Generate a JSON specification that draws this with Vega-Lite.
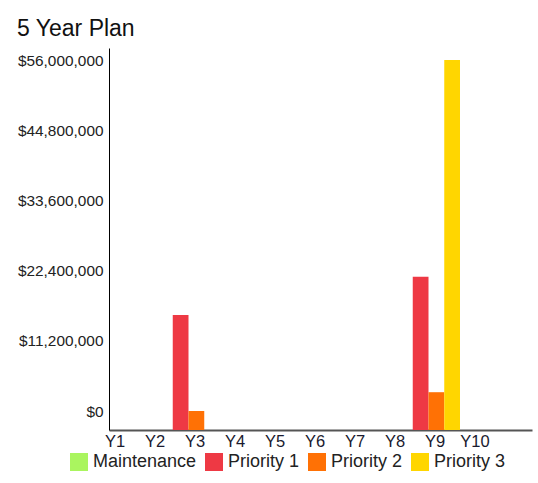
{
  "$schema": "https://vega.github.io/schema/vega-lite/v6.json",
  "width": 423,
  "height": 382,
  "autosize": {"type": "none"},
  "padding": {"left": 109, "top": 48, "right": 6, "bottom": 53},
  "background": "white",
  "config": {"view": {"stroke": null}, "font": "Liberation Sans"},
  "title": {"text": "5 Year Plan", "anchor": "start", "frame": "group", "dx": -92, "dy": 27, "fontSize": 23, "fontWeight": "normal", "color": "#111111", "offset": 16, "baseline": "alphabetic"},
  "data": {"values": [
    {"year": "Y1", "category": "Maintenance", "cost": null},
    {"year": "Y1", "category": "Priority 1", "cost": null},
    {"year": "Y1", "category": "Priority 2", "cost": null},
    {"year": "Y1", "category": "Priority 3", "cost": null},
    {"year": "Y2", "category": "Maintenance", "cost": null},
    {"year": "Y2", "category": "Priority 1", "cost": null},
    {"year": "Y2", "category": "Priority 2", "cost": null},
    {"year": "Y2", "category": "Priority 3", "cost": null},
    {"year": "Y3", "category": "Maintenance", "cost": null},
    {"year": "Y3", "category": "Priority 1", "cost": 15300000},
    {"year": "Y3", "category": "Priority 2", "cost": 0},
    {"year": "Y3", "category": "Priority 3", "cost": null},
    {"year": "Y4", "category": "Maintenance", "cost": null},
    {"year": "Y4", "category": "Priority 1", "cost": null},
    {"year": "Y4", "category": "Priority 2", "cost": null},
    {"year": "Y4", "category": "Priority 3", "cost": null},
    {"year": "Y5", "category": "Maintenance", "cost": null},
    {"year": "Y5", "category": "Priority 1", "cost": null},
    {"year": "Y5", "category": "Priority 2", "cost": null},
    {"year": "Y5", "category": "Priority 3", "cost": null},
    {"year": "Y6", "category": "Maintenance", "cost": null},
    {"year": "Y6", "category": "Priority 1", "cost": null},
    {"year": "Y6", "category": "Priority 2", "cost": null},
    {"year": "Y6", "category": "Priority 3", "cost": null},
    {"year": "Y7", "category": "Maintenance", "cost": null},
    {"year": "Y7", "category": "Priority 1", "cost": null},
    {"year": "Y7", "category": "Priority 2", "cost": null},
    {"year": "Y7", "category": "Priority 3", "cost": null},
    {"year": "Y8", "category": "Maintenance", "cost": null},
    {"year": "Y8", "category": "Priority 1", "cost": null},
    {"year": "Y8", "category": "Priority 2", "cost": null},
    {"year": "Y8", "category": "Priority 3", "cost": null},
    {"year": "Y9", "category": "Maintenance", "cost": null},
    {"year": "Y9", "category": "Priority 1", "cost": 21400000},
    {"year": "Y9", "category": "Priority 2", "cost": 3000000},
    {"year": "Y9", "category": "Priority 3", "cost": 56000000},
    {"year": "Y10", "category": "Maintenance", "cost": null},
    {"year": "Y10", "category": "Priority 1", "cost": null},
    {"year": "Y10", "category": "Priority 2", "cost": null},
    {"year": "Y10", "category": "Priority 3", "cost": null}
  ]},
  "mark": {"type": "bar"},
  "encoding": {
    "x": {
      "field": "year", "type": "nominal", "sort": null,
      "scale": {"domain": ["Y1","Y2","Y3","Y4","Y5","Y6","Y7","Y8","Y9","Y10"], "paddingInner": 0, "paddingOuter": 0.2875, "align": 0},
      "axis": {"title": null, "bandPosition": 0, "ticks": false, "labelAngle": 0, "labelFontSize": 16.5, "labelColor": "#1a1a2e", "labelPadding": 3, "labelOffset": -14, "domainColor": "#555555", "domainWidth": 2, "grid": false}
    },
    "xOffset": {
      "field": "category", "type": "nominal",
      "scale": {"domain": ["Maintenance","Priority 1","Priority 2","Priority 3"], "range": [-32, 31], "paddingInner": 0, "paddingOuter": 0}
    },
    "y": {
      "field": "cost", "type": "quantitative",
      "scale": {"domain": [-3030000, 57915000], "nice": false, "zero": false},
      "axis": {"title": null, "values": [0, 11200000, 22400000, 33600000, 44800000, 56000000], "format": "$,.0f", "ticks": false, "labelFontSize": 15.4, "labelPadding": 6, "domainColor": "#000000", "domainWidth": 1, "grid": false, "labelColor": "#222222"}
    },
    "y2": {"datum": -3030000},
    "color": {
      "field": "category", "type": "nominal",
      "scale": {"domain": ["Maintenance","Priority 1","Priority 2","Priority 3"], "range": ["#aaf55f", "#ee3944", "#ff7105", "#ffd600"]},
      "legend": {"title": null, "orient": "none", "legendX": -39, "legendY": 405, "direction": "horizontal", "symbolType": "square", "symbolSize": 324, "symbolStrokeWidth": 0, "labelFontSize": 18, "labelOffset": 5, "columnPadding": 8, "labelColor": "#222222", "symbolOpacity": 1}
    }
  }
}
